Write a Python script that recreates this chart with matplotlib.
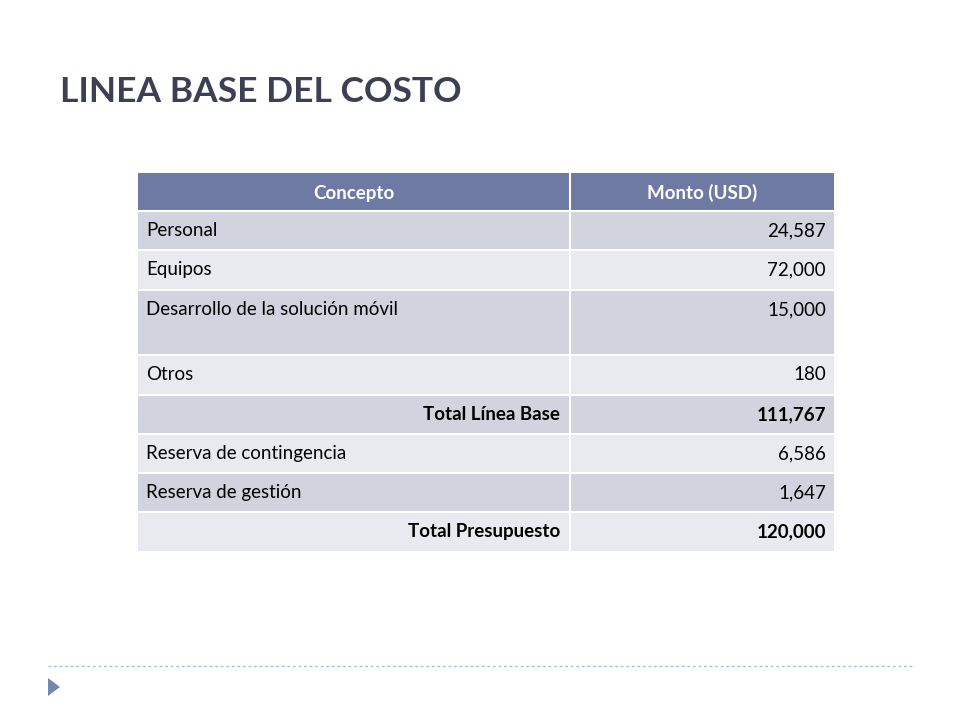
import matplotlib
matplotlib.use("Agg")
import matplotlib.pyplot as plt
from matplotlib.patches import Rectangle, Polygon

title = "LINEA BASE DEL COSTO"
headers = ["Concepto", "Monto (USD)"]
concepts = ["Personal", "Equipos", "Desarrollo de la solución móvil", "Otros",
            "Total Línea Base", "Reserva de contingencia", "Reserva de gestión", "Total Presupuesto"]
amounts = ["24,587", "72,000", "15,000", "180", "111,767", "6,586", "1,647", "120,000"]
is_total = [False, False, False, False, True, False, False, True]

FONT = "Lato"
fig = plt.figure(figsize=(9.6, 7.2), dpi=100)
ax = fig.add_axes([0, 0, 1, 1])
ax.set_xlim(0, 960); ax.set_ylim(720, 0); ax.axis("off")

ax.text(60, 92, title, fontsize=25.5, fontweight="bold", color="#3d3f55", family=FONT, va="center")

x0, xm, x1 = 138, 570, 834
row_edges = [173, 211, 250, 290, 355, 395, 434, 473, 512, 551]
FS = 13.5
ax.add_patch(Rectangle((x0, row_edges[0]), x1 - x0, row_edges[1] - row_edges[0], color="#6f7aa4", lw=0))
ax.text((x0 + xm) / 2, 193, headers[0], ha="center", va="center", fontsize=FS, fontweight="bold", color="white", family=FONT)
ax.text((xm + x1) / 2, 193, headers[1], ha="center", va="center", fontsize=FS, fontweight="bold", color="white", family=FONT)

for i, (c, a, t) in enumerate(zip(concepts, amounts, is_total)):
    top, bot = row_edges[i + 1], row_edges[i + 2]
    col = "#d1d4de" if i % 2 == 0 else "#e9eaef"
    ax.add_patch(Rectangle((x0, top), x1 - x0, bot - top, color=col, lw=0))
    ax.plot([x0, x1], [top, top], color="white", lw=1.5)
    ty = top + 19.5
    w = "bold" if t else "normal"
    if t:
        ax.text(xm - 10, ty, c, ha="right", va="center", fontsize=FS, fontweight=w, color="black", family=FONT)
    else:
        ax.text(x0 + 8, ty, c, ha="left", va="center", fontsize=FS, color="black", family=FONT)
    ax.text(x1 - 8, ty, a, ha="right", va="center", fontsize=FS, fontweight=w, color="black", family=FONT)
ax.plot([xm, xm], [row_edges[0], row_edges[-1]], color="white", lw=1.5)

ax.plot([48, 912], [666, 666], color="#a9bfd3", lw=1, ls=(0, (2, 2)))
ax.add_patch(Polygon([[48, 678], [48, 696], [60, 687]], closed=True, color="#7387b0", lw=0))

fig.savefig("out.png", dpi=100)
